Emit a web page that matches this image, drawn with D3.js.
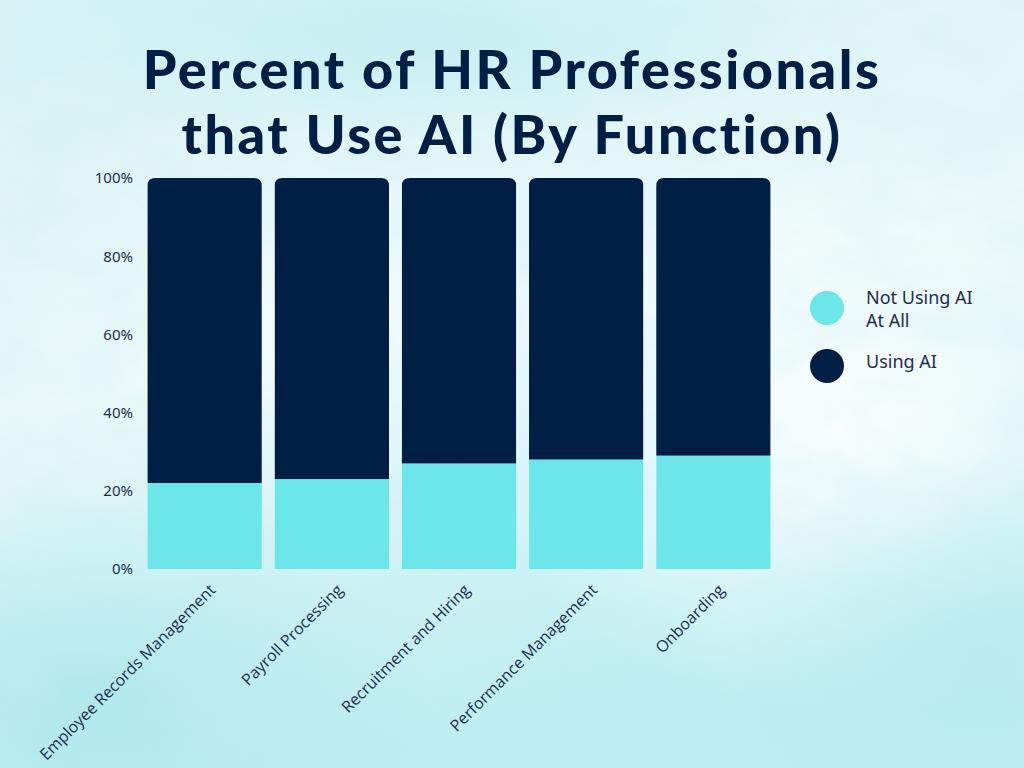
<!DOCTYPE html>
<html><head><meta charset="utf-8">
<script src="https://cdn.jsdelivr.net/npm/d3@7/dist/d3.min.js"></script>
<style>html,body{margin:0;padding:0;background:#eaf8fa;}svg{display:block;}</style>
</head><body>
<svg id="chart" width="1024" height="768"></svg>
<script>
const categories = ["Employee Records Management","Payroll Processing","Recruitment and Hiring","Performance Management","Onboarding"];
const notUsing = [22, 23, 27, 28, 29];
const usingAI = [78, 77, 73, 72, 71];
const yTicks = [0, 20, 40, 60, 80, 100];
const seriesNames = ["Not Using AI At All", "Using AI"];
const colors = ["#6de6e9", "#011e45"];

const svg = d3.select("#chart");
const W = 1024, H = 768;
const defs = svg.append("defs");

// background
const bg = defs.append("linearGradient").attr("id","bgG").attr("x1","0").attr("y1","0").attr("x2","0.3").attr("y2","1");
bg.append("stop").attr("offset","0").attr("stop-color","#d8f3f6");
bg.append("stop").attr("offset","0.5").attr("stop-color","#e8f8f9");
bg.append("stop").attr("offset","1").attr("stop-color","#bdeef1");
svg.append("rect").attr("width",W).attr("height",H).attr("fill","url(#bgG)");
function blob(id, cx, cy, r, col, op){
  const g = defs.append("radialGradient").attr("id",id);
  g.append("stop").attr("offset","0").attr("stop-color",col).attr("stop-opacity",op);
  g.append("stop").attr("offset","1").attr("stop-color",col).attr("stop-opacity",0);
  svg.append("ellipse").attr("cx",cx).attr("cy",cy).attr("rx",r[0]).attr("ry",r[1]).attr("fill",`url(#${id})`);
}
blob("b1", 850, 420, [380,300], "#ffffff", 0.9);
blob("b2", 300, 330, [300,200], "#ffffff", 0.5);
blob("b3", 80, 700, [350,200], "#9fe3ea", 0.6);
blob("b4", 980, 650, [250,200], "#a9e6ec", 0.5);
blob("b5", 420, 40, [420,100], "#bdecf1", 0.7);
const turb = defs.append("filter").attr("id","tex").attr("x","0").attr("y","0").attr("width","1").attr("height","1");
turb.append("feTurbulence").attr("type","fractalNoise").attr("baseFrequency","0.012 0.02").attr("numOctaves",4).attr("seed",3);
turb.append("feColorMatrix").attr("values","0 0 0 0 0.55  0 0 0 0 0.85  0 0 0 0 0.9  0 0 0 1.4 -0.55");
svg.append("rect").attr("width",W).attr("height",H).attr("filter","url(#tex)").attr("opacity",0.35);

// scales
const x = d3.scaleBand().domain(categories).range([141, 777]).paddingInner(0.1).paddingOuter(0.05);
const y = d3.scaleLinear().domain([0,100]).range([569,178]);

// bars
const stackData = categories.map((c,i)=>({cat:c, a:notUsing[i], b:usingAI[i]}));
const stack = d3.stack().keys(["a","b"])(stackData);
const r = 8;
const clip = defs.selectAll("clipPath.bar").data(stackData).join("clipPath").attr("id",(d,i)=>"clip"+i);
clip.append("path").attr("d", d=>{
  const x0 = x(d.cat), x1 = x0 + x.bandwidth(), yt = y(d.a+d.b), yb = y(0);
  return `M${x0},${yb}V${yt+r}Q${x0},${yt} ${x0+r},${yt}H${x1-r}Q${x1},${yt} ${x1},${yt+r}V${yb}Z`;
});
const gBars = svg.append("g");
stack.forEach((s,si)=>{
  gBars.selectAll(null).data(s).join("rect")
    .attr("x", d=>x(d.data.cat))
    .attr("width", x.bandwidth())
    .attr("y", d=>y(d[1]))
    .attr("height", d=>y(d[0])-y(d[1]))
    .attr("fill", colors[si])
    .attr("clip-path", (d,i)=>`url(#clip${i})`);
});

// y axis
const yAxis = svg.append("g").attr("transform","translate(133,0)")
  .call(d3.axisLeft(y).tickValues(yTicks).tickFormat(d=>d+"%").tickSize(0).tickPadding(0));
yAxis.select(".domain").remove();
yAxis.selectAll("text").attr("fill","#1c2d4f").attr("font-family","'Noto Sans', sans-serif").attr("font-size",15);

// x axis
const xAxis = svg.append("g").attr("transform","translate(0,569)")
  .call(d3.axisBottom(x).tickSize(0).tickPadding(0));
xAxis.select(".domain").remove();
xAxis.selectAll("text")
  .attr("fill","#1c2d4f").attr("font-family","'Open Sans', sans-serif").attr("font-size",16)
  .attr("text-anchor","end").attr("dy",0)
  .attr("transform","translate(12,22) rotate(-45)");

// title
const titleLines = ["Percent of HR Professionals", "that Use AI (By Function)"];
const titleY = [89, 154];
svg.selectAll("text.title").data(titleLines).join("text").attr("class","title")
  .attr("x",512).attr("y",(d,i)=>titleY[i]).attr("text-anchor","middle")
  .attr("font-family","Lato, sans-serif").attr("font-weight",900).attr("font-size",54)
  .attr("letter-spacing",2.5)
  .attr("fill","#011e45").text(d=>d);

// legend
const leg = svg.append("g");
const legY = [308, 366];
leg.selectAll("circle").data(seriesNames).join("circle")
  .attr("cx",827).attr("cy",(d,i)=>legY[i]).attr("r",17).attr("fill",(d,i)=>colors[i]);
const lt = leg.selectAll("text").data(seriesNames).join("text")
  .attr("x",866).attr("fill","#1c2d4f").attr("font-family","'Noto Sans', sans-serif").attr("font-size",18);
lt.each(function(d,i){
  const t = d3.select(this);
  if(i===0){
    t.append("tspan").attr("x",866).attr("y",304).text("Not Using AI");
    t.append("tspan").attr("x",866).attr("y",327).text("At All");
  } else {
    t.append("tspan").attr("x",866).attr("y",368).text(d);
  }
});
</script>
</body></html>
